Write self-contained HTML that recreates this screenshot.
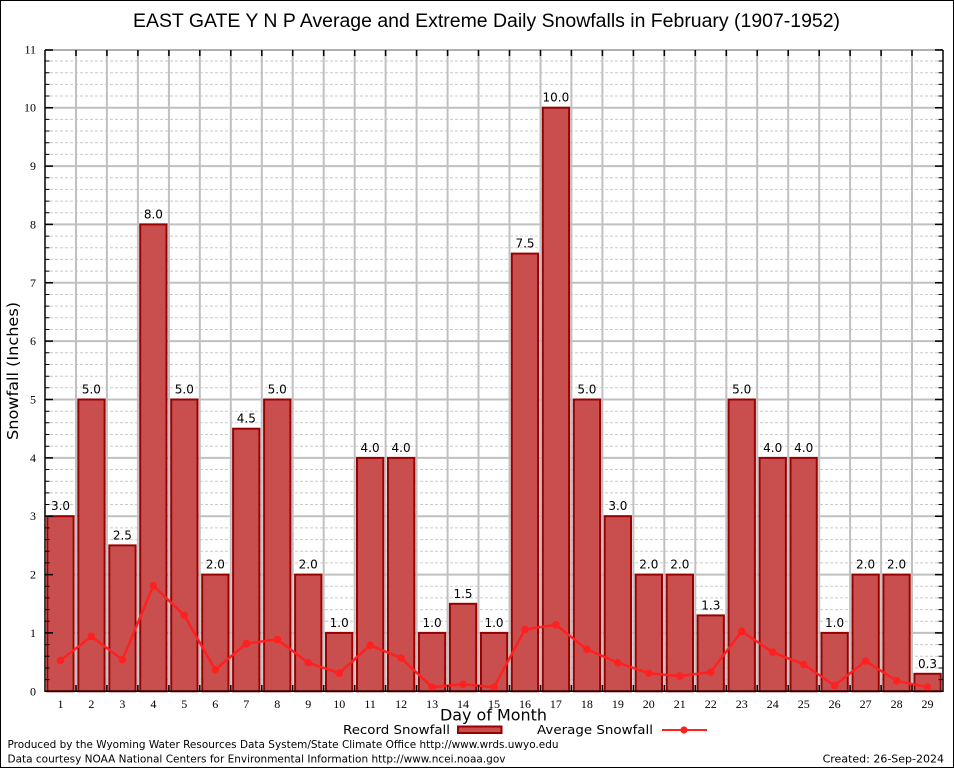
<!DOCTYPE html>
<html><head><meta charset="utf-8"><style>
html,body{margin:0;padding:0;background:#fff;}
svg{display:block;}
.t{font-family:"DejaVu Sans","Liberation Sans",sans-serif;}
.s{font-family:"Liberation Serif",serif;font-size:12px;}
.v{font-family:"DejaVu Sans","Liberation Sans",sans-serif;font-size:12px;text-anchor:middle;fill:#000;}
</style></head><body>
<svg width="954" height="768" viewBox="0 0 954 768" xmlns="http://www.w3.org/2000/svg">
<rect x="0.5" y="0.5" width="953" height="767" fill="#fff" stroke="#000" stroke-width="1"/>

<text x="133" y="27" font-family="Liberation Sans, Arial, sans-serif" font-size="19" textLength="707" lengthAdjust="spacingAndGlyphs">EAST GATE Y N P Average and Extreme Daily Snowfalls in February (1907-1952)</text>

<!-- minor horizontal grid -->
<path stroke="#cacaca" stroke-width="1" stroke-dasharray="3,2" fill="none" d="M45 679.6H943M45 668H943M45 656.3H943M45 644.6H943M45 621.3H943M45 609.6H943M45 597.9H943M45 586.3H943M45 562.9H943M45 551.2H943M45 539.6H943M45 527.9H943M45 504.5H943M45 492.9H943M45 481.2H943M45 469.5H943M45 446.2H943M45 434.5H943M45 422.8H943M45 411.2H943M45 387.8H943M45 376.2H943M45 364.5H943M45 352.8H943M45 329.5H943M45 317.8H943M45 306.1H943M45 294.5H943M45 271.1H943M45 259.4H943M45 247.8H943M45 236.1H943M45 212.8H943M45 201.1H943M45 189.4H943M45 177.7H943M45 154.4H943M45 142.7H943M45 131H943M45 119.4H943M45 96H943M45 84.4H943M45 72.7H943M45 61H943"/>
<!-- major horizontal grid -->
<path stroke="#c0c0c0" stroke-width="2" fill="none" d="M45 632.9H943M45 574.6H943M45 516.2H943M45 457.9H943M45 399.5H943M45 341.1H943M45 282.8H943M45 224.4H943M45 166.1H943M45 107.7H943M45 50H943"/>
<!-- vertical grid -->
<path stroke="#c0c0c0" stroke-width="2" fill="none" d="M76 50V691M106.9 50V691M137.9 50V691M168.9 50V691M199.8 50V691M230.8 50V691M261.8 50V691M292.7 50V691M323.7 50V691M354.7 50V691M385.6 50V691M416.6 50V691M447.6 50V691M478.5 50V691M509.5 50V691M540.5 50V691M571.4 50V691M602.4 50V691M633.4 50V691M664.3 50V691M695.3 50V691M726.3 50V691M757.2 50V691M788.2 50V691M819.2 50V691M850.1 50V691M881.1 50V691M912 50V691"/>

<!-- bars -->
<g fill="#c94f4f" stroke="#9a0000" stroke-width="2">
<rect x="47.3" y="516.2" width="26.3" height="175.1"/>
<rect x="78.3" y="399.5" width="26.3" height="291.8"/>
<rect x="109.3" y="545.4" width="26.3" height="145.9"/>
<rect x="140.2" y="224.4" width="26.3" height="466.9"/>
<rect x="171.2" y="399.5" width="26.3" height="291.8"/>
<rect x="202.2" y="574.6" width="26.3" height="116.7"/>
<rect x="233.1" y="428.7" width="26.3" height="262.6"/>
<rect x="264.1" y="399.5" width="26.3" height="291.8"/>
<rect x="295.1" y="574.6" width="26.3" height="116.7"/>
<rect x="326" y="632.9" width="26.3" height="58.4"/>
<rect x="357" y="457.9" width="26.3" height="233.4"/>
<rect x="388" y="457.9" width="26.3" height="233.4"/>
<rect x="418.9" y="632.9" width="26.3" height="58.4"/>
<rect x="449.9" y="603.8" width="26.3" height="87.5"/>
<rect x="480.9" y="632.9" width="26.3" height="58.4"/>
<rect x="511.8" y="253.6" width="26.3" height="437.7"/>
<rect x="542.8" y="107.7" width="26.3" height="583.6"/>
<rect x="573.8" y="399.5" width="26.3" height="291.8"/>
<rect x="604.7" y="516.2" width="26.3" height="175.1"/>
<rect x="635.7" y="574.6" width="26.3" height="116.7"/>
<rect x="666.7" y="574.6" width="26.3" height="116.7"/>
<rect x="697.6" y="615.4" width="26.3" height="75.9"/>
<rect x="728.6" y="399.5" width="26.3" height="291.8"/>
<rect x="759.6" y="457.9" width="26.3" height="233.4"/>
<rect x="790.5" y="457.9" width="26.3" height="233.4"/>
<rect x="821.5" y="632.9" width="26.3" height="58.4"/>
<rect x="852.5" y="574.6" width="26.3" height="116.7"/>
<rect x="883.4" y="574.6" width="26.3" height="116.7"/>
<rect x="914.4" y="673.8" width="26.3" height="17.5"/>
</g>

<!-- value labels -->
<g class="v">
<text x="60.5" y="510.2">3.0</text>
<text x="91.4" y="393.5">5.0</text>
<text x="122.4" y="539.4">2.5</text>
<text x="153.4" y="218.4">8.0</text>
<text x="184.3" y="393.5">5.0</text>
<text x="215.3" y="568.6">2.0</text>
<text x="246.3" y="422.7">4.5</text>
<text x="277.2" y="393.5">5.0</text>
<text x="308.2" y="568.6">2.0</text>
<text x="339.2" y="626.9">1.0</text>
<text x="370.1" y="451.9">4.0</text>
<text x="401.1" y="451.9">4.0</text>
<text x="432.1" y="626.9">1.0</text>
<text x="463" y="597.8">1.5</text>
<text x="494" y="626.9">1.0</text>
<text x="525" y="247.6">7.5</text>
<text x="555.9" y="101.7">10.0</text>
<text x="586.9" y="393.5">5.0</text>
<text x="617.9" y="510.2">3.0</text>
<text x="648.8" y="568.6">2.0</text>
<text x="679.8" y="568.6">2.0</text>
<text x="710.8" y="609.4">1.3</text>
<text x="741.7" y="393.5">5.0</text>
<text x="772.7" y="451.9">4.0</text>
<text x="803.7" y="451.9">4.0</text>
<text x="834.6" y="626.9">1.0</text>
<text x="865.6" y="568.6">2.0</text>
<text x="896.6" y="568.6">2.0</text>
<text x="927.5" y="667.8">0.3</text>
</g>

<!-- average line -->
<polyline fill="none" stroke="#ff2020" stroke-width="2.5" stroke-linejoin="round" points="60.5,660.4 91.4,636.4 122.4,659.8 153.4,585.7 184.3,615.4 215.3,669.7 246.3,643.5 277.2,639.4 308.2,662.7 339.2,673.2 370.1,645.2 401.1,658 432.1,687.2 463,684.3 494,687.2 525,629.4 555.9,624.8 586.9,649.3 617.9,662.7 648.8,673.2 679.8,676.1 710.8,672 741.7,631.2 772.7,652.2 803.7,664.5 834.6,685.5 865.6,661 896.6,680.8 927.5,687.2"/>
<g fill="#ff2020">
<circle cx="60.5" cy="660.4" r="3.8"/><circle cx="91.4" cy="636.4" r="3.8"/><circle cx="122.4" cy="659.8" r="3.8"/><circle cx="153.4" cy="585.7" r="3.8"/><circle cx="184.3" cy="615.4" r="3.8"/><circle cx="215.3" cy="669.7" r="3.8"/><circle cx="246.3" cy="643.5" r="3.8"/><circle cx="277.2" cy="639.4" r="3.8"/><circle cx="308.2" cy="662.7" r="3.8"/><circle cx="339.2" cy="673.2" r="3.8"/><circle cx="370.1" cy="645.2" r="3.8"/><circle cx="401.1" cy="658" r="3.8"/><circle cx="432.1" cy="687.2" r="3.8"/><circle cx="463" cy="684.3" r="3.8"/><circle cx="494" cy="687.2" r="3.8"/><circle cx="525" cy="629.4" r="3.8"/><circle cx="555.9" cy="624.8" r="3.8"/><circle cx="586.9" cy="649.3" r="3.8"/><circle cx="617.9" cy="662.7" r="3.8"/><circle cx="648.8" cy="673.2" r="3.8"/><circle cx="679.8" cy="676.1" r="3.8"/><circle cx="710.8" cy="672" r="3.8"/><circle cx="741.7" cy="631.2" r="3.8"/><circle cx="772.7" cy="652.2" r="3.8"/><circle cx="803.7" cy="664.5" r="3.8"/><circle cx="834.6" cy="685.5" r="3.8"/><circle cx="865.6" cy="661" r="3.8"/><circle cx="896.6" cy="680.8" r="3.8"/><circle cx="927.5" cy="687.2" r="3.8"/>
</g>

<!-- axes border -->
<path stroke="#b0b0b0" stroke-width="2" fill="none" d="M45 50H943"/>
<path stroke="#000" stroke-width="1.5" fill="none" d="M45 50V691.3H943V50"/>
<!-- left/right minor ticks -->
<path stroke="#000" stroke-width="1" fill="none" d="M45 679.6h4.5M45 668h4.5M45 656.3h4.5M45 644.6h4.5M45 621.3h4.5M45 609.6h4.5M45 597.9h4.5M45 586.3h4.5M45 562.9h4.5M45 551.2h4.5M45 539.6h4.5M45 527.9h4.5M45 504.5h4.5M45 492.9h4.5M45 481.2h4.5M45 469.5h4.5M45 446.2h4.5M45 434.5h4.5M45 422.8h4.5M45 411.2h4.5M45 387.8h4.5M45 376.2h4.5M45 364.5h4.5M45 352.8h4.5M45 329.5h4.5M45 317.8h4.5M45 306.1h4.5M45 294.5h4.5M45 271.1h4.5M45 259.4h4.5M45 247.8h4.5M45 236.1h4.5M45 212.8h4.5M45 201.1h4.5M45 189.4h4.5M45 177.7h4.5M45 154.4h4.5M45 142.7h4.5M45 131h4.5M45 119.4h4.5M45 96h4.5M45 84.4h4.5M45 72.7h4.5M45 61h4.5
M943 679.6h-4.5M943 668h-4.5M943 656.3h-4.5M943 644.6h-4.5M943 621.3h-4.5M943 609.6h-4.5M943 597.9h-4.5M943 586.3h-4.5M943 562.9h-4.5M943 551.2h-4.5M943 539.6h-4.5M943 527.9h-4.5M943 504.5h-4.5M943 492.9h-4.5M943 481.2h-4.5M943 469.5h-4.5M943 446.2h-4.5M943 434.5h-4.5M943 422.8h-4.5M943 411.2h-4.5M943 387.8h-4.5M943 376.2h-4.5M943 364.5h-4.5M943 352.8h-4.5M943 329.5h-4.5M943 317.8h-4.5M943 306.1h-4.5M943 294.5h-4.5M943 271.1h-4.5M943 259.4h-4.5M943 247.8h-4.5M943 236.1h-4.5M943 212.8h-4.5M943 201.1h-4.5M943 189.4h-4.5M943 177.7h-4.5M943 154.4h-4.5M943 142.7h-4.5M943 131h-4.5M943 119.4h-4.5M943 96h-4.5M943 84.4h-4.5M943 72.7h-4.5M943 61h-4.5"/>
<!-- major y ticks -->
<path stroke="#000" stroke-width="1.5" fill="none" d="M45 632.9h8M45 574.6h8M45 516.2h8M45 457.9h8M45 399.5h8M45 341.1h8M45 282.8h8M45 224.4h8M45 166.1h8M45 107.7h8M45 50h8
M943 632.9h-8M943 574.6h-8M943 516.2h-8M943 457.9h-8M943 399.5h-8M943 341.1h-8M943 282.8h-8M943 224.4h-8M943 166.1h-8M943 107.7h-8M943 50h-8"/>
<!-- x ticks -->
<path stroke="#000" stroke-width="1.5" fill="none" d="M76 691v-6M106.9 691v-6M137.9 691v-6M168.9 691v-6M199.8 691v-6M230.8 691v-6M261.8 691v-6M292.7 691v-6M323.7 691v-6M354.7 691v-6M385.6 691v-6M416.6 691v-6M447.6 691v-6M478.5 691v-6M509.5 691v-6M540.5 691v-6M571.4 691v-6M602.4 691v-6M633.4 691v-6M664.3 691v-6M695.3 691v-6M726.3 691v-6M757.2 691v-6M788.2 691v-6M819.2 691v-6M850.1 691v-6M881.1 691v-6M912 691v-6
M76 50v6M106.9 50v6M137.9 50v6M168.9 50v6M199.8 50v6M230.8 50v6M261.8 50v6M292.7 50v6M323.7 50v6M354.7 50v6M385.6 50v6M416.6 50v6M447.6 50v6M478.5 50v6M509.5 50v6M540.5 50v6M571.4 50v6M602.4 50v6M633.4 50v6M664.3 50v6M695.3 50v6M726.3 50v6M757.2 50v6M788.2 50v6M819.2 50v6M850.1 50v6M881.1 50v6M912 50v6"/>

<!-- y tick labels -->
<g class="s" text-anchor="end">
<text x="36" y="695.3">0</text>
<text x="36" y="636.9">1</text>
<text x="36" y="578.6">2</text>
<text x="36" y="520.2">3</text>
<text x="36" y="461.9">4</text>
<text x="36" y="403.5">5</text>
<text x="36" y="345.1">6</text>
<text x="36" y="286.8">7</text>
<text x="36" y="228.4">8</text>
<text x="36" y="170.1">9</text>
<text x="36" y="111.7">10</text>
<text x="36" y="53.3">11</text>
</g>
<!-- x tick labels -->
<g class="s" text-anchor="middle">
<text x="60.5" y="708">1</text><text x="91.4" y="708">2</text><text x="122.4" y="708">3</text><text x="153.4" y="708">4</text><text x="184.3" y="708">5</text><text x="215.3" y="708">6</text><text x="246.3" y="708">7</text><text x="277.2" y="708">8</text><text x="308.2" y="708">9</text><text x="339.2" y="708">10</text><text x="370.1" y="708">11</text><text x="401.1" y="708">12</text><text x="432.1" y="708">13</text><text x="463" y="708">14</text><text x="494" y="708">15</text><text x="525" y="708">16</text><text x="555.9" y="708">17</text><text x="586.9" y="708">18</text><text x="617.9" y="708">19</text><text x="648.8" y="708">20</text><text x="679.8" y="708">21</text><text x="710.8" y="708">22</text><text x="741.7" y="708">23</text><text x="772.7" y="708">24</text><text x="803.7" y="708">25</text><text x="834.6" y="708">26</text><text x="865.6" y="708">27</text><text x="896.6" y="708">28</text><text x="927.5" y="708">29</text>
</g>

<!-- axis labels -->
<text class="t" x="440" y="720.5" font-size="16" textLength="107" lengthAdjust="spacingAndGlyphs">Day of Month</text>
<text class="t" transform="translate(18,440) rotate(-90)" x="0" y="0" font-size="15" textLength="138" lengthAdjust="spacingAndGlyphs">Snowfall (Inches)</text>

<!-- legend -->
<text class="t" x="343" y="734" font-size="12.5" textLength="107" lengthAdjust="spacingAndGlyphs">Record Snowfall</text>
<rect x="458" y="726.5" width="43.5" height="6.5" fill="#c94f4f" stroke="#9a0000" stroke-width="2"/>
<text class="t" x="537" y="734" font-size="12.5" textLength="116" lengthAdjust="spacingAndGlyphs">Average Snowfall</text>
<path d="M662 730H707" stroke="#ff2020" stroke-width="2"/>
<circle cx="684" cy="730" r="3.6" fill="#ff2020"/>

<!-- footer -->
<text class="t" x="7.5" y="748" font-size="11" textLength="551" lengthAdjust="spacingAndGlyphs">Produced by the Wyoming Water Resources Data System/State Climate Office http://www.wrds.uwyo.edu</text>
<text class="t" x="7.5" y="762.5" font-size="11" textLength="498" lengthAdjust="spacingAndGlyphs">Data courtesy NOAA National Centers for Environmental Information http://www.ncei.noaa.gov</text>
<text class="t" x="944" y="762.5" font-size="11" text-anchor="end">Created: 26-Sep-2024</text>
</svg>
</body></html>
